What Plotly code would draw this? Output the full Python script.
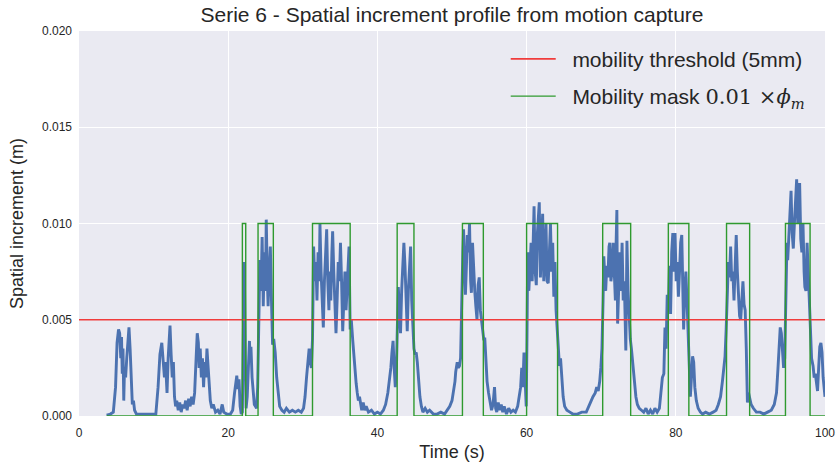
import plotly.graph_objects as go

# ---- data ----
time_s = [3.7, 4.2, 4.6, 4.9, 5.1, 5.3, 5.45, 5.6, 5.7, 5.8, 5.9, 6.0, 6.1, 6.25, 6.4, 6.55, 6.7, 6.85, 7.0, 7.15, 7.3, 7.45, 7.7, 8.5, 9.5, 10.3, 10.6, 10.85, 11.1, 11.3, 11.45, 11.6, 11.8, 11.95, 12.1, 12.2, 12.35, 12.5, 12.65, 12.8, 12.95, 13.1, 13.3, 13.5, 13.7, 13.9, 14.1, 14.3, 14.5, 14.7, 14.9, 15.1, 15.3, 15.5, 15.7, 15.85, 16.0, 16.1, 16.25, 16.4, 16.55, 16.7, 16.85, 17.0, 17.15, 17.3, 17.45, 17.6, 17.8, 18.0, 18.3, 18.6, 18.9, 19.2, 19.4, 19.8, 20.3, 20.6, 20.85, 21.0, 21.15, 21.3, 21.45, 21.6, 21.75, 21.9, 22.05, 22.15, 22.3, 22.4, 22.55, 22.7, 22.85, 22.95, 23.05, 23.2, 23.35, 23.5, 23.65, 23.8, 23.95, 24.1, 24.25, 24.4, 24.55, 24.7, 24.85, 25.0, 25.1, 25.25, 25.35, 25.5, 25.65, 25.8, 25.95, 26.1, 26.3, 26.5, 26.7, 26.9, 27.2, 27.5, 27.8, 28.2, 28.6, 29.0, 29.4, 29.8, 30.1, 30.3, 30.5, 30.7, 30.85, 31.0, 31.15, 31.3, 31.45, 31.6, 31.75, 31.9, 32.05, 32.2, 32.3, 32.45, 32.6, 32.75, 32.9, 33.05, 33.2, 33.35, 33.5, 33.6, 33.75, 33.9, 34.0, 34.15, 34.3, 34.45, 34.6, 34.75, 34.9, 35.05, 35.2, 35.35, 35.5, 35.65, 35.8, 35.95, 36.1, 36.2, 36.35, 36.5, 36.7, 36.85, 37.0, 37.15, 37.3, 37.45, 37.6, 37.75, 37.9, 38.1, 38.3, 38.5, 38.8, 39.2, 39.6, 40.0, 40.4, 40.8, 41.1, 41.4, 41.6, 41.8, 41.95, 42.1, 42.25, 42.4, 42.55, 42.7, 42.8, 42.95, 43.1, 43.25, 43.4, 43.55, 43.7, 43.85, 44.0, 44.15, 44.3, 44.45, 44.6, 44.75, 44.9, 45.05, 45.2, 45.35, 45.5, 45.7, 45.9, 46.1, 46.4, 46.7, 47.0, 47.5, 48.0, 48.5, 49.0, 49.4, 49.7, 50.0, 50.2, 50.4, 50.5, 50.7, 50.85, 51.0, 51.15, 51.3, 51.45, 51.55, 51.7, 51.8, 51.95, 52.05, 52.2, 52.35, 52.5, 52.6, 52.75, 52.9, 53.05, 53.2, 53.35, 53.5, 53.65, 53.8, 53.95, 54.1, 54.25, 54.4, 54.55, 54.7, 54.9, 55.1, 55.3, 55.5, 55.7, 55.85, 56.0, 56.2, 56.4, 56.6, 56.8, 57.0, 57.3, 57.6, 57.9, 58.2, 58.5, 58.8, 59.0, 59.2, 59.35, 59.5, 59.65, 59.8, 59.95, 60.05, 60.15, 60.3, 60.45, 60.6, 60.75, 60.9, 61.0, 61.15, 61.3, 61.45, 61.6, 61.7, 61.85, 62.0, 62.15, 62.3, 62.45, 62.6, 62.75, 62.9, 63.05, 63.2, 63.35, 63.5, 63.65, 63.8, 63.95, 64.1, 64.25, 64.4, 64.55, 64.7, 64.9, 65.1, 65.4, 65.8, 66.2, 66.8, 67.4, 68.0, 68.5, 68.9, 69.2, 69.4, 69.6, 69.8, 69.95, 70.1, 70.25, 70.35, 70.45, 70.6, 70.75, 70.9, 71.05, 71.15, 71.3, 71.45, 71.6, 71.75, 71.9, 72.0, 72.1, 72.2, 72.35, 72.5, 72.65, 72.8, 72.95, 73.1, 73.3, 73.45, 73.6, 73.75, 73.9, 74.05, 74.25, 74.45, 74.65, 74.85, 75.1, 75.4, 75.7, 76.0, 76.3, 76.6, 76.9, 77.2, 77.5, 77.8, 78.0, 78.2, 78.4, 78.55, 78.7, 78.85, 79.0, 79.15, 79.3, 79.45, 79.6, 79.75, 79.9, 80.05, 80.2, 80.35, 80.5, 80.65, 80.8, 80.95, 81.05, 81.2, 81.35, 81.5, 81.65, 81.8, 81.95, 82.1, 82.25, 82.4, 82.55, 82.75, 83.0, 83.3, 83.6, 84.0, 84.5, 85.0, 85.4, 85.7, 86.0, 86.25, 86.45, 86.6, 86.75, 86.9, 87.05, 87.2, 87.35, 87.5, 87.65, 87.8, 87.95, 88.1, 88.25, 88.4, 88.55, 88.7, 88.85, 89.0, 89.15, 89.3, 89.45, 89.6, 89.75, 89.9, 90.1, 90.4, 90.8, 91.3, 91.8, 92.3, 92.8, 93.2, 93.5, 93.7, 93.85, 94.0, 94.15, 94.3, 94.45, 94.6, 94.75, 94.9, 95.0, 95.15, 95.3, 95.45, 95.6, 95.75, 95.9, 96.05, 96.2, 96.35, 96.5, 96.6, 96.75, 96.9, 97.05, 97.2, 97.3, 97.45, 97.6, 97.75, 97.9, 98.05, 98.2, 98.4, 98.55, 98.7, 98.85, 99.0, 99.15, 99.3, 99.45, 99.6, 99.75, 99.9, 100.0]

increment_m = [0.00005, 0.0001, 0.0002, 0.0015, 0.0038, 0.0045, 0.0043, 0.0030, 0.0041, 0.0022, 0.0035, 0.0008, 0.0025, 0.0020, 0.0030, 0.0038, 0.0046, 0.0035, 0.0015, 0.0006, 0.0008, 0.0003, 0.0001, 0.0001, 0.00008, 0.0001, 0.0015, 0.0032, 0.0038, 0.0030, 0.0020, 0.0028, 0.0012, 0.0030, 0.0040, 0.0047, 0.0032, 0.0020, 0.0028, 0.0010, 0.0005, 0.0008, 0.0003, 0.0007, 0.0002, 0.0006, 0.0004, 0.0008, 0.0003, 0.0009, 0.0005, 0.0010, 0.0006, 0.0012, 0.0030, 0.0043, 0.0038, 0.0025, 0.0035, 0.0020, 0.0030, 0.0015, 0.0028, 0.0020, 0.0035, 0.0025, 0.0018, 0.0008, 0.0004, 0.0006, 0.0002, 0.0003, 0.0001, 0.0006, 0.0002, 0.0001, 0.0001, 0.0003, 0.0012, 0.0018, 0.0021, 0.0014, 0.0019, 0.0005, 0.0001, 0.0002, 0.0045, 0.0080, 0.0030, 0.0004, 0.0010, 0.0030, 0.0039, 0.0028, 0.0036, 0.0020, 0.0012, 0.0006, 0.0005, 0.0004, 0.0015, 0.0060, 0.0081, 0.0065, 0.0093, 0.0057, 0.0085, 0.0065, 0.0102, 0.0070, 0.0057, 0.0075, 0.0088, 0.0060, 0.0037, 0.0040, 0.0033, 0.0020, 0.0010, 0.0005, 0.0003, 0.0002, 0.0004, 0.0002, 0.0003, 0.0002, 0.0003, 0.0002, 0.0004, 0.0010, 0.0020, 0.0030, 0.0035, 0.0028, 0.0025, 0.0040, 0.0088, 0.0070, 0.0080, 0.0060, 0.0085, 0.0070, 0.0100, 0.0075, 0.0060, 0.0046, 0.0070, 0.0085, 0.0097, 0.0070, 0.0055, 0.0075, 0.0060, 0.0085, 0.0096, 0.0075, 0.0060, 0.0043, 0.0060, 0.0080, 0.0070, 0.0090, 0.0070, 0.0044, 0.0060, 0.0075, 0.0055, 0.0070, 0.0085, 0.0088, 0.0045, 0.0050, 0.0039, 0.0030, 0.0022, 0.0017, 0.0012, 0.0008, 0.0010, 0.0005, 0.0003, 0.0007, 0.0003, 0.0005, 0.0002, 0.0003, 0.0001, 0.0002, 0.0001, 0.0003, 0.0006, 0.0012, 0.0018, 0.0025, 0.0033, 0.0039, 0.0025, 0.0015, 0.0025, 0.0045, 0.0067, 0.0055, 0.0043, 0.0065, 0.0075, 0.0090, 0.0078, 0.0060, 0.0044, 0.0065, 0.0080, 0.0088, 0.0060, 0.0046, 0.0035, 0.0032, 0.0033, 0.0028, 0.0020, 0.0010, 0.0005, 0.0002, 0.0004, 0.0002, 0.0003, 0.0001, 0.0001, 0.0002, 0.0001, 0.0003, 0.0005, 0.0008, 0.0012, 0.0018, 0.0023, 0.0028, 0.0025, 0.0026, 0.0030, 0.0071, 0.0085, 0.0097, 0.0080, 0.0063, 0.0080, 0.0094, 0.0085, 0.0100, 0.0070, 0.0064, 0.0090, 0.0075, 0.0065, 0.0057, 0.0050, 0.0068, 0.0072, 0.0055, 0.0050, 0.0045, 0.0040, 0.0040, 0.0025, 0.0018, 0.0012, 0.0006, 0.0003, 0.0006, 0.0015, 0.0004, 0.0002, 0.0007, 0.0003, 0.0006, 0.0002, 0.0005, 0.0001, 0.0004, 0.0002, 0.0003, 0.0002, 0.0005, 0.0010, 0.0015, 0.0025, 0.0015, 0.0033, 0.0020, 0.0005, 0.0040, 0.0085, 0.0065, 0.0080, 0.0090, 0.0070, 0.0098, 0.0109, 0.0075, 0.0068, 0.0095, 0.0105, 0.0111, 0.0072, 0.0085, 0.0105, 0.0070, 0.0080, 0.0100, 0.0070, 0.0069, 0.0085, 0.0100, 0.0075, 0.0090, 0.0062, 0.0080, 0.0055, 0.0045, 0.0038, 0.0026, 0.0030, 0.0020, 0.0010, 0.0005, 0.0003, 0.0002, 0.0001, 0.0001, 0.0002, 0.0002, 0.0007, 0.0010, 0.0012, 0.0015, 0.0013, 0.0018, 0.0025, 0.0035, 0.0060, 0.0083, 0.0075, 0.0065, 0.0078, 0.0072, 0.0088, 0.0090, 0.0070, 0.0075, 0.0090, 0.0072, 0.0060, 0.0090, 0.0107, 0.0048, 0.0075, 0.0085, 0.0065, 0.0090, 0.0060, 0.0070, 0.0034, 0.0091, 0.0065, 0.0048, 0.0040, 0.0035, 0.0025, 0.0018, 0.0010, 0.0006, 0.0004, 0.0003, 0.0002, 0.0004, 0.0001, 0.0003, 0.0001, 0.0004, 0.0002, 0.0004, 0.0012, 0.0020, 0.0022, 0.0046, 0.0035, 0.0063, 0.0055, 0.0078, 0.0053, 0.0085, 0.0095, 0.0075, 0.0095, 0.0070, 0.0080, 0.0062, 0.0075, 0.0090, 0.0094, 0.0065, 0.0045, 0.0065, 0.0075, 0.0060, 0.0040, 0.0026, 0.0010, 0.0020, 0.0031, 0.0028, 0.0015, 0.0008, 0.0004, 0.0002, 0.0001, 0.0002, 0.0001, 0.0002, 0.0003, 0.0006, 0.0010, 0.0018, 0.0025, 0.0031, 0.0045, 0.0065, 0.0080, 0.0072, 0.0088, 0.0070, 0.0075, 0.0060, 0.0080, 0.0094, 0.0075, 0.0065, 0.0052, 0.0050, 0.0065, 0.0070, 0.0058, 0.0055, 0.0035, 0.0007, 0.0012, 0.0010, 0.0006, 0.0004, 0.0002, 0.0002, 0.0001, 0.0002, 0.0003, 0.0006, 0.0012, 0.0025, 0.0040, 0.0046, 0.0043, 0.0035, 0.0025, 0.0030, 0.0069, 0.0090, 0.0081, 0.0095, 0.0100, 0.0117, 0.0095, 0.0087, 0.0100, 0.0110, 0.0123, 0.0100, 0.0108, 0.0121, 0.0092, 0.0085, 0.0100, 0.0075, 0.0067, 0.0065, 0.0090, 0.0075, 0.0060, 0.0040, 0.0030, 0.0026, 0.0020, 0.0022, 0.0016, 0.0013, 0.0025, 0.0036, 0.0038, 0.0033, 0.0020, 0.0012, 0.0010]

threshold_m = 0.005
threshold_span = [0, 100]
mask_level = 0.01
mask_start, mask_end = 3.7, 100.0
mask_on = [21.9, 24.0, 31.3, 42.65, 51.4, 60.0, 70.2, 79.0, 86.8, 94.7]
mask_off = [22.35, 26.05, 36.35, 44.9, 54.2, 64.15, 73.95, 81.75, 89.9, 98.0]

x_ticks = [0, 20, 40, 60, 80, 100]
y_ticks = [0.0, 0.005, 0.010, 0.015, 0.020]

# step trace for the mask
mx, my = [mask_start], [0.0]
for a, b in zip(mask_on, mask_off):
    mx += [a, b]
    my += [mask_level, 0.0]
mx.append(mask_end)
my.append(0.0)

FONT = "Liberation Sans, Arial, sans-serif"
NB = "\u00a0\u00a0"

fig = go.Figure()
fig.add_trace(go.Scatter(x=time_s, y=increment_m, mode="lines",
                         line=dict(color="#4C72B0", width=2.9),
                         showlegend=False, hoverinfo="skip"))
fig.add_trace(go.Scatter(x=threshold_span, y=[threshold_m, threshold_m], mode="lines",
                         line=dict(color="#f03c3c", width=1.6),
                         name=NB + "mobility threshold (5mm)", legendgroup="a"))
fig.add_trace(go.Scatter(x=mx, y=my, mode="lines", line_shape="hv",
                         line=dict(color="#2f9a2f", width=1.4),
                         name=NB + "Mobility mask <span style='font-family:DejaVu Serif'>0.01 ×<i>ϕ</i><sub><i>m</i></sub></span>",
                         legendgroup="b"))

fig.update_layout(
    width=838, height=468,
    margin=dict(l=79, r=13, t=31, b=52, autoexpand=False),
    paper_bgcolor="white", plot_bgcolor="#EAEAF2",
    font=dict(family=FONT, color="#262626"),
    title=dict(text="Serie 6 - Spatial increment profile from motion capture",
               x=452 / 838, xanchor="center", y=1 - 15 / 468, yanchor="middle",
               font=dict(size=21, color="#262626")),
    legend=dict(x=0.572, y=0.98, xanchor="left", yanchor="top",
                bgcolor="rgba(0,0,0,0)", font=dict(size=21, color="#262626"),
                traceorder="grouped", tracegroupgap=7, itemwidth=45),
    showlegend=True,
    hovermode=False,
)
fig.update_xaxes(range=[0, 100], tickvals=x_ticks, ticktext=[str(v) for v in x_ticks],
                 showgrid=True, gridcolor="white", gridwidth=1.2, zeroline=False,
                 showline=False, ticks="", tickfont=dict(size=12, color="#262626"),
                 automargin=False, ticklabelstandoff=8,
                 title=dict(text="Time (s)", font=dict(size=18), standoff=6))
fig.update_yaxes(range=[0, 0.020], tickvals=y_ticks, ticktext=[f"{v:.3f}" for v in y_ticks],
                 showgrid=True, gridcolor="white", gridwidth=1.2, zeroline=False,
                 showline=False, ticks="", tickfont=dict(size=12, color="#262626"),
                 automargin=False, ticklabelstandoff=6,
                 title=dict(text="Spatial increment (m)", font=dict(size=18), standoff=13))

fig.write_html("out.html", config={"displayModeBar": False},
               post_script="document.body.style.margin='0';")
